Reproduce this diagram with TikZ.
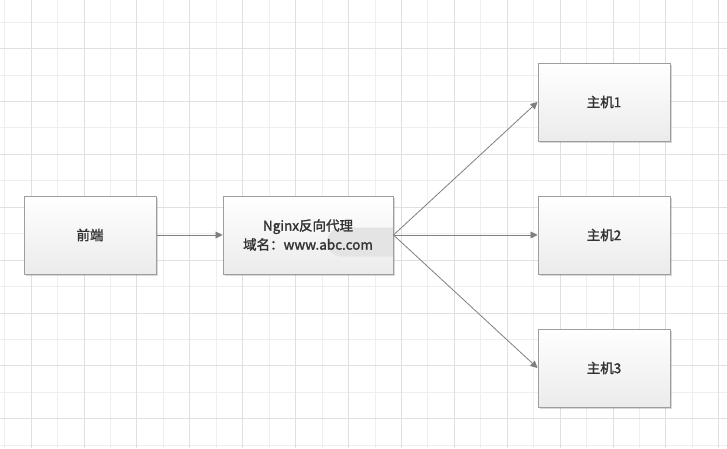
\documentclass[tikz,border=0pt]{standalone}
\usepackage{fontspec}
\setmainfont{Noto Sans CJK SC}[BoldFont={Noto Sans CJK SC}, BoldFeatures={FakeBold=1.6}]
\usetikzlibrary{arrows.meta,shadows}
\definecolor{gdMinor}{HTML}{EFEFEF}
\definecolor{gdMajor}{HTML}{E0E0E0}
\definecolor{bxLine}{HTML}{9E9E9E}
\definecolor{bxBot}{HTML}{EBEBEB}
\definecolor{txDark}{HTML}{333333}
\definecolor{arGrey}{HTML}{7F7F7F}
\definecolor{hlGrey}{HTML}{E4E4E4}
\tikzset{
  boxg/.style={draw=bxLine, line width=1pt, top color=white, bottom color=bxBot, minimum width=132pt, minimum height=78pt, inner sep=0pt, align=center, font=\fontsize{13.5}{19}\selectfont\bfseries, text=txDark, drop shadow={shadow xshift=1.5pt, shadow yshift=-1.5pt, opacity=0.25, fill=black!60}},
  arr/.style={-{Triangle[length=7pt,width=7pt]}, line width=0.8pt, arGrey},
}
\begin{document}
\begin{tikzpicture}[x=1pt,y=-1pt]
  \fill[white] (0,0) rectangle (727,448);
  \useasboundingbox (0,0) rectangle (727,448);
  % grid
  \foreach \k in {0,...,27} {\draw[gdMinor, line width=0.8pt] ({4.6+26.45*\k},0) -- ++(0,448);}
  \foreach \k in {0,...,16} {\draw[gdMinor, line width=0.8pt] (0,{22+26.45*\k}) -- ++(727,0);}
  \foreach \k in {1,3,...,27} {\draw[gdMajor, line width=0.8pt] ({4.6+26.45*\k},0) -- ++(0,448);}
  \foreach \k in {1,3,...,15} {\draw[gdMajor, line width=0.8pt] (0,{22+26.45*\k}) -- ++(727,0);}
  % boxes
  \node[boxg] (front) at (90,235) {前端};
  \node[boxg, minimum width=170pt, path picture={\fill[hlGrey] ([xshift=-51.5pt,yshift=7.5pt]path picture bounding box.east) -- ++(66pt,0pt) -- ++(0pt,-29pt) -- ++(-66pt,0pt) arc[start angle=270, end angle=90, radius=14.5pt] -- cycle;}] (nginx) at (308,235) {Nginx反向代理\\域名：www.abc.com};
  \node[boxg] (host1) at (604,102) {主机1};
  \node[boxg] (host2) at (604,235) {主机2};
  \node[boxg] (host3) at (604,368) {主机3};
  % arrows
  \draw[arr] (front) -- (nginx);
  \foreach \h in {1,2,3} {\draw[arr] (nginx.east) -- (host\h.west);}
\end{tikzpicture}
\end{document}
